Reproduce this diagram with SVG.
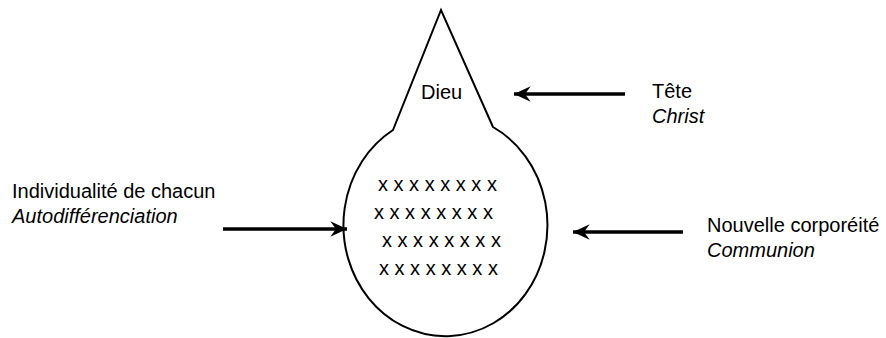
<svg xmlns="http://www.w3.org/2000/svg" width="886" height="338" viewBox="0 0 886 338">
<style>
text{font-family:"Liberation Sans",Arial,sans-serif;font-size:20px;fill:#000}
.it{font-style:italic}
.shape{fill:#fff;stroke:#000;stroke-width:2}
.conn{stroke:#000;stroke-width:3.5;fill:none;marker-end:url(#ah)}
</style>
<defs>
<marker id="ah" markerUnits="userSpaceOnUse" markerWidth="20" markerHeight="20" viewBox="-16 -8 18 16" refX="0" refY="0" orient="auto">
<path d="M0,0 L-15,-7 L-10,0 L-15,7 Z" fill="#000"/>
</marker>
</defs>
<rect width="886" height="338" fill="#fff"/>
<g id="body">
<path class="shape" d="M393,130 L441,10 L493,127 A102,111 0 1 1 393,130 Z"/>
<text x="421" y="99">Dieu</text>
<text x="378" y="191">x x x x x x x x</text>
<text x="374" y="219">x x x x x x x x</text>
<text x="382" y="247">x x x x x x x x</text>
<text x="379" y="275">x x x x x x x x</text>
</g>
<g id="connectors">
<line class="conn" x1="223" y1="229" x2="347" y2="229"/>
<line class="conn" x1="625" y1="94" x2="514" y2="94"/>
<line class="conn" x1="683" y1="232" x2="573" y2="232"/>
</g>
<g id="label-individualite">
<text x="12" y="198">Individualité de chacun</text>
<text class="it" x="12" y="223">Autodifférenciation</text>
</g>
<g id="label-tete">
<text x="652" y="98">Tête</text>
<text class="it" x="652" y="123">Christ</text>
</g>
<g id="label-corporeite">
<text x="707" y="232">Nouvelle corporéité</text>
<text class="it" x="707" y="257">Communion</text>
</g>
</svg>
